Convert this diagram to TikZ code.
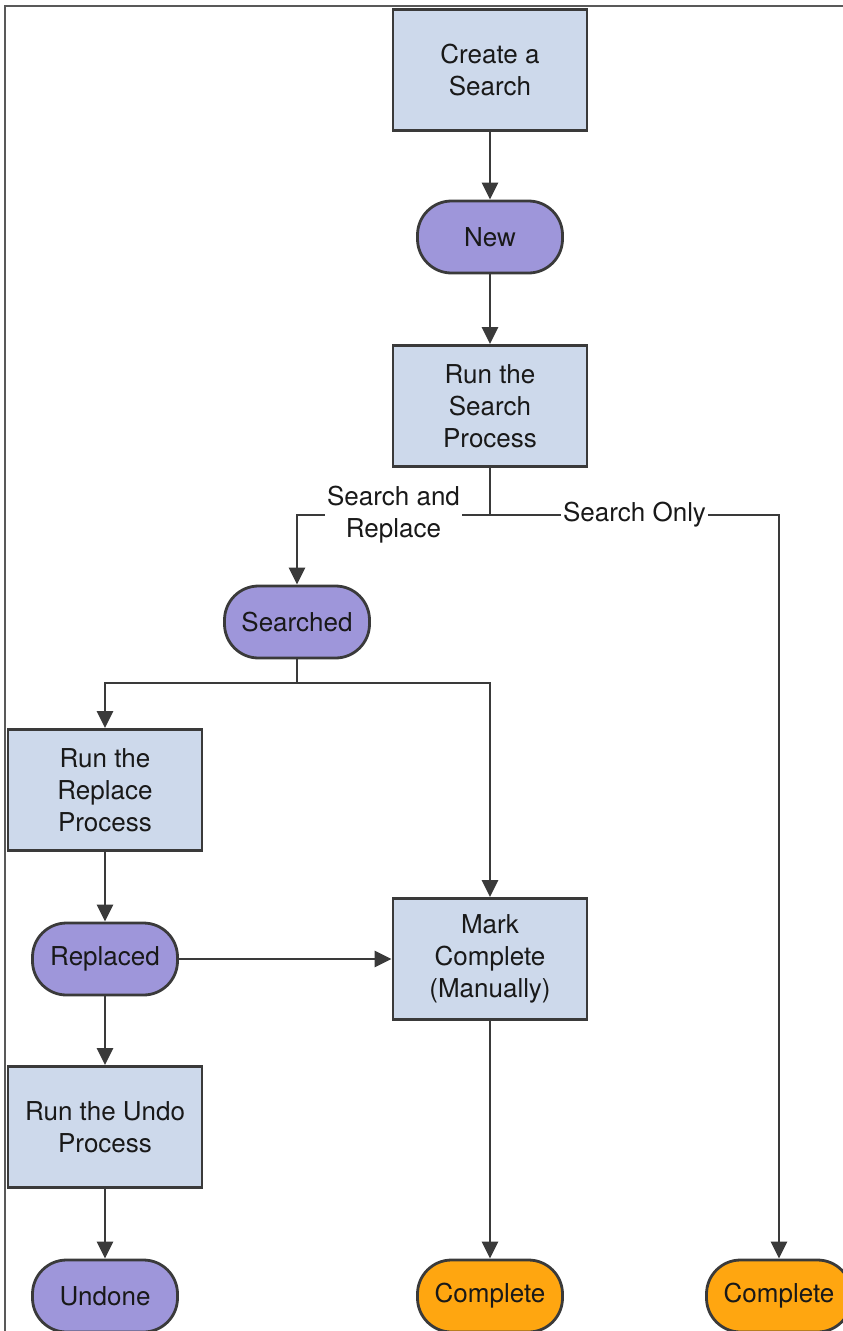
\documentclass[tikz,border=0pt]{standalone}
\usepackage{fontspec}
\setmainfont{TeX Gyre Heros}
\usetikzlibrary{arrows.meta}

\definecolor{boxblue}{RGB}{205,217,235}
\definecolor{statepurple}{RGB}{158,150,218}
\definecolor{doneorange}{RGB}{255,166,16}
\definecolor{edgegray}{RGB}{58,58,58}

\begin{document}
\begin{tikzpicture}[x=1pt,y=-1pt,
  every node/.style={font=\fontsize{26}{32}\selectfont,text=black!90,align=center},
  procbox/.style={draw=edgegray,line width=2.8pt,fill=boxblue,minimum width=194pt,minimum height=121pt,inner sep=0pt},
  state/.style={draw=edgegray,line width=2.8pt,fill=statepurple,minimum width=145pt,minimum height=72pt,rounded corners=34pt,inner sep=0pt},
  donestate/.style={state,fill=doneorange},
  edgeline/.style={draw=edgegray,line width=2.8pt},
  flow/.style={edgeline,-{Triangle[length=17pt,width=16pt]}},
  branch/.style={fill=white,inner sep=2pt}]
  \useasboundingbox (0,0) rectangle (843,1331);
  \draw[black!65,line width=1.2pt] (5,1331) -- (5,6) -- (843,6);

  \node[procbox] (create) at (490,70) {Create a\\Search};
  \node[state] (new) at (490,237) {New};
  \node[procbox] (runsearch) at (490,406) {Run the\\Search\\Process};
  \node[state] (searched) at (297,622) {Searched};
  \node[procbox] (runreplace) at (105,790) {Run the\\Replace\\Process};
  \node[state] (replaced) at (105,959) {Replaced};
  \node[procbox] (markdone) at (490,959) {Mark\\Complete\\(Manually)};
  \node[procbox] (runundo) at (105,1127) {Run the Undo\\Process};
  \node[state] (undone) at (105,1296) {Undone};
  \node[donestate] (done1) at (490,1296) {Complete};
  \node[donestate] (done2) at (779,1296) {Complete};

  \coordinate (fork) at (490,515);
  \coordinate (fork2) at (297,683);

  \draw[flow] (create) -- (new);
  \draw[flow] (new) -- (runsearch);
  \draw[edgeline] (runsearch) -- (fork);
  \draw[flow] (fork) -| node[branch,pos=0.25] (lblreplace) {Search and\\Replace} (searched);
  \draw[flow] (fork) -| node[branch,pos=0.25] (lblonly) {Search Only} (done2);

  \draw[edgeline] (searched) -- (fork2);
  \draw[flow] (fork2) -| (runreplace);
  \draw[flow] (fork2) -| (markdone);
  \draw[flow] (runreplace) -- (replaced);
  \draw[flow] (replaced) -- (markdone);
  \draw[flow] (replaced) -- (runundo);
  \draw[flow] (runundo) -- (undone);
  \draw[flow] (markdone) -- (done1);
\end{tikzpicture}
\end{document}
